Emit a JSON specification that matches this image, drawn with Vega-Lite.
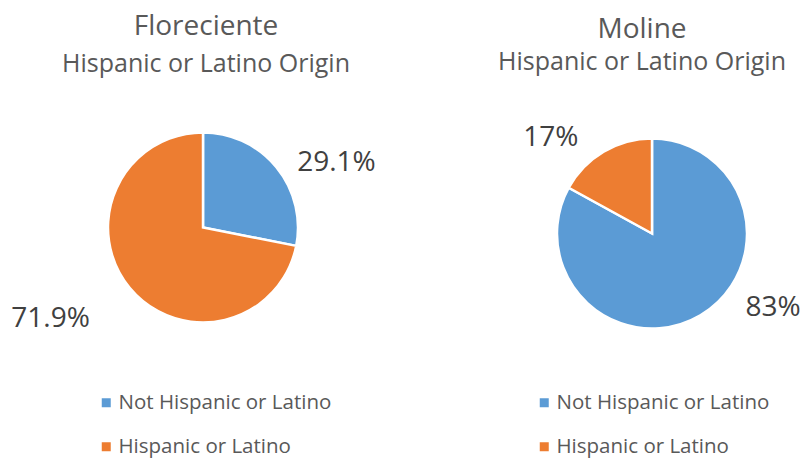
{
  "$schema": "https://vega.github.io/schema/vega-lite/v6.json",
  "padding": {"top": 12.5, "left": 0, "right": 0, "bottom": 0},
  "background": "white",
  "bounds": "flush",
  "spacing": 96,
  "config": {
    "view": {"stroke": null},
    "font": "Open Sans",
    "title": {"font": "Open Sans", "subtitleFont": "Open Sans", "fontWeight": "normal", "color": "#595959", "subtitleColor": "#595959", "fontSize": 28, "subtitleFontSize": 25, "anchor": "middle"},
    "legend": {"labelFont": "Open Sans", "labelFontSize": 20.5, "labelColor": "#595959", "labelLimit": 0, "symbolType": "square", "symbolSize": 81, "symbolStrokeWidth": 0, "rowPadding": 23, "labelOffset": 2, "padding": 0, "direction": "vertical", "orient": "none"}
  },
  "data": {
    "values": [
      {"city": "Floreciente", "group": "Not Hispanic or Latino", "value": 28.1, "label": "29.1%"},
      {"city": "Floreciente", "group": "Hispanic or Latino", "value": 71.9, "label": "71.9%"},
      {"city": "Moline", "group": "Not Hispanic or Latino", "value": 83, "label": "83%"},
      {"city": "Moline", "group": "Hispanic or Latino", "value": 17, "label": "17%"}
    ]
  },
  "resolve": {"scale": {"color": "independent", "theta": "independent"}, "legend": {"color": "independent"}},
  "hconcat": [
    {
      "width": 406,
      "height": 200,
      "title": {"text": "Floreciente", "subtitle": "Hispanic or Latino Origin", "offset": 50.5, "subtitlePadding": 11.5, "dx": 3},
      "transform": [{"filter": "datum.city === 'Floreciente'"}],
      "encoding": {
        "theta": {"field": "value", "type": "quantitative", "stack": true},
        "order": {"field": "group", "sort": "descending"},
        "color": {
          "field": "group", "type": "nominal",
          "sort": ["Not Hispanic or Latino", "Hispanic or Latino"],
          "scale": {"domain": ["Not Hispanic or Latino", "Hispanic or Latino"], "range": ["#5B9BD5", "#ED7D31"]},
          "legend": {"title": null, "legendX": 96, "legendY": 265}
        }
      },
      "layer": [
        {"mark": {"type": "arc", "outerRadius": 95, "stroke": "white", "strokeWidth": 2.5}},
        {
          "mark": {"type": "text", "radius": 130, "dx": 33, "dy": 18, "fontSize": 28, "fill": "#404040", "align": "center", "baseline": "middle"},
          "encoding": {"text": {"condition": {"test": "datum.group === 'Not Hispanic or Latino'", "field": "label"}, "value": ""}, "color": {"value": "#404040"}}
        },
        {
          "mark": {"type": "text", "radius": 130, "dx": -52, "dy": 9, "fontSize": 28, "fill": "#404040", "align": "center", "baseline": "middle"},
          "encoding": {"text": {"condition": {"test": "datum.group === 'Hispanic or Latino'", "field": "label"}, "value": ""}, "color": {"value": "#404040"}}
        }
      ]
    },
    {
      "width": 300,
      "height": 212,
      "title": {"text": "Moline", "subtitle": "Hispanic or Latino Origin", "offset": 48.5, "subtitlePadding": 6, "dx": -10},
      "transform": [{"filter": "datum.city === 'Moline'"}],
      "encoding": {
        "theta": {"field": "value", "type": "quantitative", "stack": true},
        "order": {"field": "group", "sort": "descending"},
        "color": {
          "field": "group", "type": "nominal",
          "sort": ["Not Hispanic or Latino", "Hispanic or Latino"],
          "scale": {"domain": ["Not Hispanic or Latino", "Hispanic or Latino"], "range": ["#5B9BD5", "#ED7D31"]},
          "legend": {"title": null, "legendX": 32, "legendY": 265}
        }
      },
      "layer": [
        {"mark": {"type": "arc", "outerRadius": 95, "stroke": "white", "strokeWidth": 2.5}},
        {
          "mark": {"type": "text", "radius": 130, "dx": 55, "dy": -37, "fontSize": 28, "fill": "#404040", "align": "center", "baseline": "middle", "clip": true},
          "encoding": {"text": {"condition": {"test": "datum.group === 'Not Hispanic or Latino'", "field": "label"}, "value": ""}, "color": {"value": "#404040"}}
        },
        {
          "mark": {"type": "text", "radius": 130, "dx": -35, "dy": 16, "fontSize": 28, "fill": "#404040", "align": "center", "baseline": "middle"},
          "encoding": {"text": {"condition": {"test": "datum.group === 'Hispanic or Latino'", "field": "label"}, "value": ""}, "color": {"value": "#404040"}}
        }
      ]
    }
  ]
}
